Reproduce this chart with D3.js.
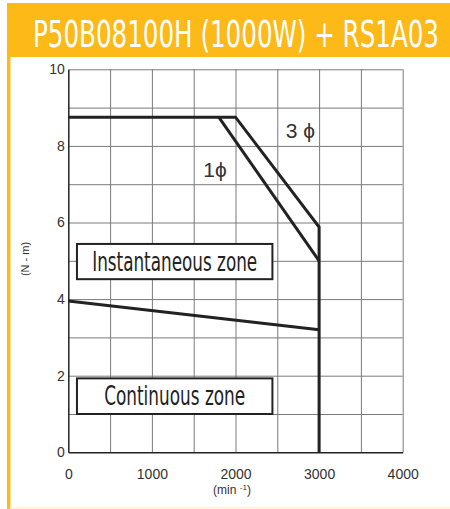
<!DOCTYPE html>
<html>
<head>
<meta charset="utf-8">
<script src="https://cdn.jsdelivr.net/npm/d3@7"></script>
<style>
  body { margin: 0; background: #fff; }
  svg { display: block; }
  .grid line { stroke: #7a7a7a; stroke-width: 1; }
  .tick text { font-family: "Liberation Sans", Arial, sans-serif; font-size: 14px; fill: #333; }
</style>
</head>
<body>
<script>
const title = 'P50B08100H (1000W) + RS1A03';
const xTicks = [0, 1000, 2000, 3000, 4000];
const yTicks = [0, 2, 4, 6, 8, 10];

// torque-speed curves [speed (min-1), torque (N-m)]
const threePhase = [[0, 8.75], [2000, 8.75], [3000, 5.88], [3000, 0]];
const onePhase = [[1800, 8.75], [3000, 5.0]];
const continuous = [[0, 3.95], [3000, 3.2]];

const zones = [
  {label: 'Instantaneous zone', x0: 100, x1: 2450, y0: 5.44, y1: 4.52, textW: 165},
  {label: 'Continuous zone', x0: 100, x1: 2450, y0: 1.93, y1: 1.0, textW: 141}
];
const phaseLabels = [
  {text: '3 \u03d5', x: 2600, y: 8.2},
  {text: '1\u03d5', x: 1615, y: 7.2}
];

const W = 450, H = 509;
const svg = d3.select('body').append('svg')
    .attr('width', W)
    .attr('height', H);

// frame: orange header and left border
svg.append('rect').attr('x', 7).attr('y', 3).attr('width', W - 7).attr('height', 54).attr('fill', '#fcb918');
svg.append('rect').attr('x', 7).attr('y', 3).attr('width', 3.5).attr('height', H - 3).attr('fill', '#fcb918');
svg.append('rect').attr('x', 10).attr('y', H - 2).attr('width', W - 10).attr('height', 2).attr('fill', '#fff3dc');

const condensed = '"Liberation Sans Narrow", "DejaVu Sans Condensed", "Roboto Condensed", sans-serif';

// title: narrow font stretched vertically
svg.append('text')
    .attr('transform', 'translate(33,47) scale(1,1.4)')
    .attr('textLength', 406)
    .attr('lengthAdjust', 'spacingAndGlyphs')
    .style('font-family', condensed)
    .style('font-stretch', 'condensed')
    .style('font-size', '26px')
    .style('fill', '#fff')
    .text(title);

const plotL = 68.3, plotR = 402.7, plotT = 69.3, plotB = 452.3;
const x = d3.scaleLinear().domain([0, 4000]).range([plotL, plotR]);
const y = d3.scaleLinear().domain([0, 10]).range([plotB, plotT]);

// grid
svg.append('g')
    .attr('class', 'grid')
    .attr('transform', `translate(0,${plotB})`)
    .call(d3.axisBottom(x).tickValues(d3.range(500, 4001, 500)).tickSize(-(plotB - plotT)).tickFormat(''))
    .call(g => g.select('.domain').remove());
svg.append('g')
    .attr('class', 'grid')
    .attr('transform', `translate(${plotL},0)`)
    .call(d3.axisLeft(y).tickValues(d3.range(1, 11, 1)).tickSize(-(plotR - plotL)).tickFormat(''))
    .call(g => g.select('.domain').remove());

// axes
svg.append('g')
    .attr('transform', `translate(0,${plotB})`)
    .call(d3.axisBottom(x).tickValues(xTicks).tickFormat(d3.format('d')).tickSize(0).tickPadding(16.5))
    .call(g => g.select('.domain').attr('stroke', '#222').attr('stroke-width', 1.5));
svg.append('g')
    .attr('transform', `translate(${plotL},0)`)
    .call(d3.axisLeft(y).tickValues(yTicks).tickSize(0).tickPadding(3.5))
    .call(g => g.select('.domain').attr('stroke', '#222').attr('stroke-width', 1.5));

// axis titles
const xt = svg.append('text')
    .attr('x', 232)
    .attr('y', 494)
    .attr('text-anchor', 'middle')
    .style('font-family', '"Liberation Sans", Arial, sans-serif')
    .style('font-size', '12px')
    .style('fill', '#333');
xt.append('tspan').text('(min ');
xt.append('tspan').attr('dy', -4).style('font-size', '8px').text('-1');
xt.append('tspan').attr('dy', 4).text(')');

svg.append('text')
    .attr('transform', 'translate(29,259) rotate(-90)')
    .attr('text-anchor', 'middle')
    .style('font-family', '"Liberation Sans", Arial, sans-serif')
    .style('font-size', '11px')
    .style('fill', '#333')
    .text('(N - m)');

// curves
const line = d3.line().x(d => x(d[0])).y(d => y(d[1]));
[threePhase, onePhase, continuous].forEach(d => {
  svg.append('path')
      .datum(d)
      .attr('d', line)
      .attr('fill', 'none')
      .attr('stroke', '#222')
      .attr('stroke-width', 3);
});

// zone boxes
zones.forEach(z => {
  const bx = x(z.x0) + 0.3, bw = x(z.x1) - x(z.x0) - 1;
  svg.append('rect')
      .attr('x', bx)
      .attr('y', y(z.y0))
      .attr('width', bw)
      .attr('height', y(z.y1) - y(z.y0))
      .attr('fill', '#fff')
      .attr('stroke', '#222')
      .attr('stroke-width', 2);
  svg.append('text')
      .attr('x', bx + bw / 2)
      .attr('y', (y(z.y0) + y(z.y1)) / 2 + 9)
      .attr('text-anchor', 'middle')
      .attr('textLength', z.textW)
      .attr('lengthAdjust', 'spacingAndGlyphs')
      .style('font-family', condensed)
      .style('font-stretch', 'condensed')
      .style('font-size', '26px')
      .style('fill', '#222')
      .text(z.label);
});

phaseLabels.forEach(p => {
  svg.append('text')
      .attr('x', x(p.x))
      .attr('y', y(p.y))
      .style('font-family', '"Liberation Sans", Arial, sans-serif')
      .style('font-size', '21px')
      .style('fill', '#333')
      .text(p.text);
});
</script>
</body>
</html>
